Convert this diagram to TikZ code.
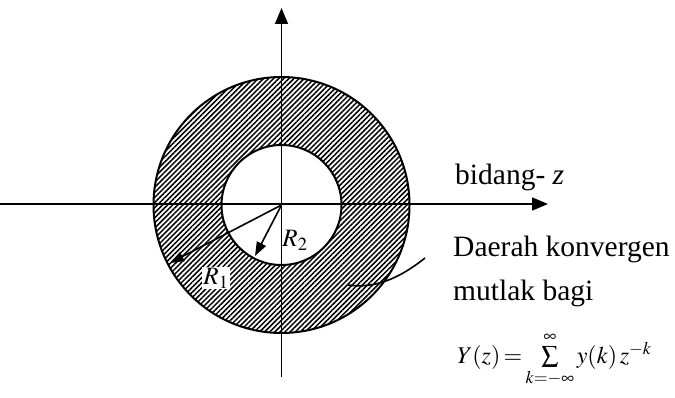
\documentclass[tikz,border=0pt]{standalone}
\usepackage{mathptmx}
\usepackage{fontspec}
\setmainfont{Liberation Serif}
\usetikzlibrary{positioning,arrows.meta,patterns.meta}
\tikzset{
  axisln/.style={-{Triangle[length=16pt,width=13pt]},line width=1.7pt},
  ring/.style={line width=2pt},
  hatch/.style={pattern={Lines[angle=45,distance=3.6pt,line width=1.5pt]}},
  radarrow/.style={-{Triangle[length=14pt,width=10pt]},line width=1.6pt},
  txt/.style={font=\fontsize{29.5}{35}\selectfont,inner sep=0pt,anchor=base west},
  mlbl/.style={font=\fontsize{25}{30}\selectfont,inner sep=1pt},
}
\begin{document}
\begin{tikzpicture}[x=1pt,y=-1pt]
  \useasboundingbox (0,0) rectangle (675,398);
  % annulus of convergence
  \coordinate (O) at (281.5,205);
  \path[hatch,even odd rule] (O) circle[radius=128] (O) circle[radius=60];
  \draw[ring] (O) circle[radius=128];
  \draw[ring] (O) circle[radius=60];
  % axes
  \coordinate (xl) at (0,204);
  \coordinate (xr) at (548,204);
  \coordinate (yb) at (281.5,377);
  \coordinate (yt) at (281.5,8);
  \draw[axisln] (xl)--(xr);
  \draw[axisln] (yb)--(yt);
  % radii
  \coordinate (r1tip) at (170,263);
  \coordinate (r2tip) at (255,256);
  \draw[radarrow] (O)--(r1tip);
  \draw[radarrow] (O)--(r2tip);
  \node[mlbl,fill=white] (r1) at (216,278) {$R_1$};
  \node[mlbl] (r2) at (295,240) {$R_2$};
  % labels
  \node[txt] (bidang) at (455,185) {bidang- \textit{z}};
  \node[txt] (daerah) at (453,257) {Daerah konvergen};
  \node[txt] (mutlak) at (453,300) {mutlak bagi};
  \node[txt,font=\fontsize{24}{28}\selectfont] (sum) at (457,363)
    {\thickmuskip=2.5mu $Y(z)=\sum\limits_{k=-\infty}^{\infty}y(k)\,z^{-k}$};
  % pointer into the ring
  \coordinate (cs) at (425,258);
  \coordinate (ce) at (348,285);
  \draw[line width=1.6pt] (cs) .. controls (400,278) and (375,289) .. (ce);
\end{tikzpicture}
\end{document}
